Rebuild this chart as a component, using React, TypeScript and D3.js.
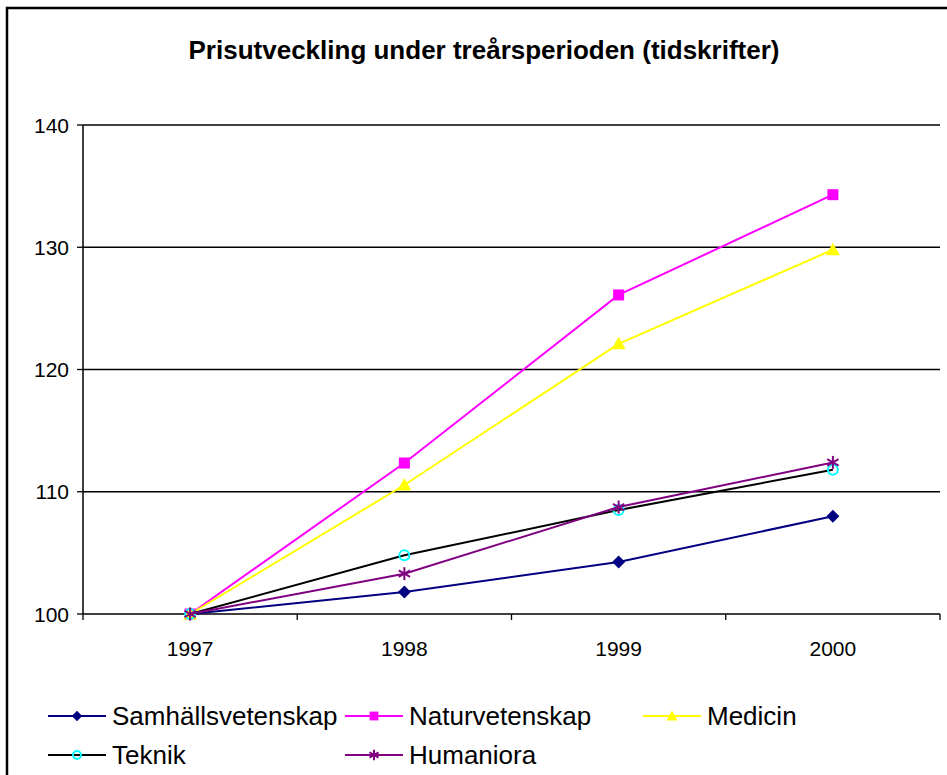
import React from 'react';
import * as d3 from 'd3';

const years = ['1997', '1998', '1999', '2000'];
const seriesNames = ['Samhällsvetenskap', 'Naturvetenskap', 'Medicin', 'Teknik', 'Humaniora'];
const samhall = [100, 101.8, 104.25, 108.0];
const natur = [100, 112.35, 126.1, 134.3];
const medicin = [100, 110.55, 122.1, 129.8];
const teknik = [100, 104.8, 108.5, 111.8];
const humaniora = [100, 103.3, 108.75, 112.4];
const yTicks = [100, 110, 120, 130, 140];

const title = 'Prisutveckling under treårsperioden (tidskrifter)';

const styles = [
  { line: '#000080', marker: 'diamond', fill: '#000080' },
  { line: '#FF00FF', marker: 'square', fill: '#FF00FF' },
  { line: '#FFFF00', marker: 'triangle', fill: '#FFFF00' },
  { line: '#000000', marker: 'circle', fill: '#00FFFF' },
  { line: '#800080', marker: 'star', fill: '#800080' },
];

const font = 'Arial, "Liberation Sans", sans-serif';

const Marker: React.FC<{ kind: string; color: string; x: number; y: number; s?: number }> = ({ kind, color, x, y, s = 1 }) => {
  switch (kind) {
    case 'diamond':
      return <path d={`M${x},${y - 6.5 * s}L${x + 6.5 * s},${y}L${x},${y + 6.5 * s}L${x - 6.5 * s},${y}Z`} fill={color} />;
    case 'square':
      return <rect x={x - 5.5 * s} y={y - 5.5 * s} width={11 * s} height={11 * s} fill={color} />;
    case 'triangle':
      return <path d={`M${x},${y - 7 * s}L${x + 7 * s},${y + 5.5 * s}L${x - 7 * s},${y + 5.5 * s}Z`} fill={color} />;
    case 'circle':
      return <circle cx={x} cy={y} r={5 * s} fill="none" stroke={color} strokeWidth={2} />;
    case 'star': {
      const r = 6.5 * s;
      return (
        <g stroke={color} strokeWidth={2}>
          <line x1={x} y1={y - r} x2={x} y2={y + r} />
          <line x1={x - r * 0.87} y1={y - r * 0.5} x2={x + r * 0.87} y2={y + r * 0.5} />
          <line x1={x - r * 0.87} y1={y + r * 0.5} x2={x + r * 0.87} y2={y - r * 0.5} />
        </g>
      );
    }
    default:
      return null;
  }
};

export default function App() {
  const W = 947;
  const H = 775;
  const plot = { left: 83, right: 940, top: 125, bottom: 614 };

  const x = d3.scaleBand<string>().domain(years).range([plot.left, plot.right]);
  const y = d3.scaleLinear().domain([100, 140]).range([plot.bottom, plot.top]);
  const cx = (yr: string) => (x(yr) || 0) + x.bandwidth() / 2;

  const data = [samhall, natur, medicin, teknik, humaniora];
  const line = d3.line<number>().x((_, i) => cx(years[i])).y(d => y(d));

  const boundaries = [...years.map(yr => x(yr) || 0), plot.right];

  const legendCols = [48, 345, 643];
  const legendRows = [716, 755];

  return (
    <svg width={W} height={H} style={{ position: 'absolute', left: 0, top: 0, background: '#fff' }}>
      <rect x={0} y={0} width={W} height={H} fill="#fff" />
      <rect x={7} y={8} width={960} height={800} fill="none" stroke="#000" strokeWidth={2.5} />
      <text x={484} y={59} textAnchor="middle" fontFamily={font} fontWeight="bold" fontSize={26}>{title}</text>

      {/* gridlines */}
      {yTicks.slice(1).map(t => (
        <line key={t} x1={plot.left} x2={plot.right} y1={y(t)} y2={y(t)} stroke="#000" strokeWidth={1.3} />
      ))}
      {/* y axis */}
      <line x1={plot.left} x2={plot.left} y1={plot.top} y2={plot.bottom} stroke="#000" strokeWidth={1.5} />
      {yTicks.map(t => (
        <g key={t}>
          <line x1={plot.left - 6} x2={plot.left} y1={y(t)} y2={y(t)} stroke="#000" strokeWidth={1.3} />
          <text x={69} y={y(t) + 7.5} textAnchor="end" fontFamily={font} fontSize={21}>{t}</text>
        </g>
      ))}
      {/* x axis */}
      <line x1={plot.left} x2={plot.right} y1={plot.bottom} y2={plot.bottom} stroke="#000" strokeWidth={1.5} />
      {boundaries.map((b, i) => (
        <line key={i} x1={b} x2={b} y1={plot.bottom} y2={plot.bottom + 6} stroke="#000" strokeWidth={1.3} />
      ))}
      {years.map(yr => (
        <text key={yr} x={cx(yr)} y={656} textAnchor="middle" fontFamily={font} fontSize={21}>{yr}</text>
      ))}

      {/* series */}
      {data.map((vals, si) => (
        <g key={si}>
          <path d={line(vals) || ''} fill="none" stroke={styles[si].line} strokeWidth={2} />
          {vals.map((v, i) => (
            <Marker key={i} kind={styles[si].marker} color={styles[si].fill} x={cx(years[i])} y={y(v)} />
          ))}
        </g>
      ))}

      {/* legend */}
      {seriesNames.map((name, i) => {
        const lx = legendCols[i % 3];
        const ly = legendRows[Math.floor(i / 3)];
        return (
          <g key={name}>
            <line x1={lx} x2={lx + 58} y1={ly} y2={ly} stroke={styles[i].line} strokeWidth={2} />
            <Marker kind={styles[i].marker} color={styles[i].fill} x={lx + 29} y={ly} s={0.8} />
            <text x={lx + 64} y={ly + 9} fontFamily={font} fontSize={26}>{name}</text>
          </g>
        );
      })}
    </svg>
  );
}
